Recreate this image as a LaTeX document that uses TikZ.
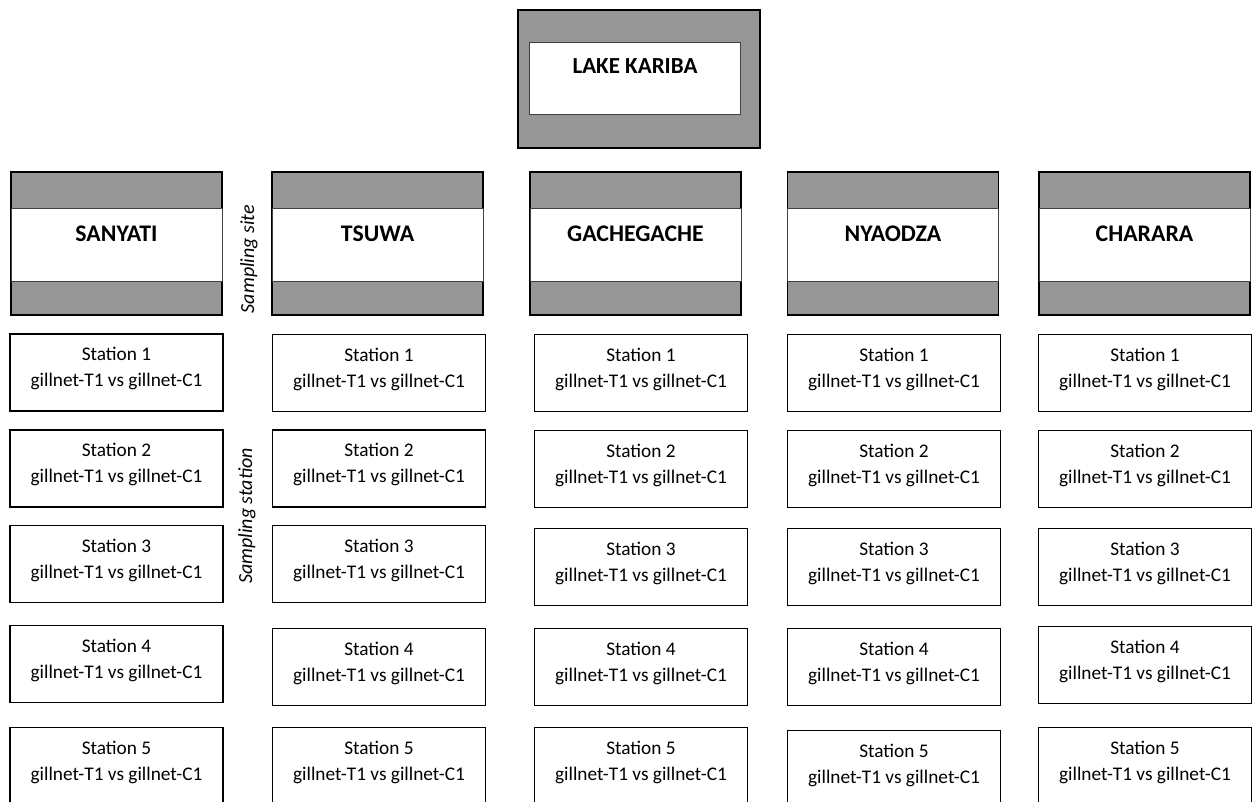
\documentclass[tikz,border=0pt]{standalone}
\usepackage{fontspec}
\setmainfont{Carlito}
\definecolor{bandgray}{RGB}{150,150,150}
\begin{document}
\begin{tikzpicture}[x=1pt,y=-1pt,
  outerbox/.style={draw=black, line width=1.8pt, fill=bandgray, inner sep=0pt},
  whiteband/.style={draw=black!75, line width=0.8pt, fill=white, inner sep=0pt},
  stbox/.style={draw=black, line width=1.1pt, fill=white, inner sep=0pt,
    minimum width=213pt, minimum height=77pt},
  hdrtxt/.style={font=\fontsize{23.8}{28}\selectfont\bfseries, inner sep=0pt},
  sttxt/.style={font=\fontsize{19.3}{26}\selectfont, align=center, inner sep=0pt},
  sidelbl/.style={font=\fontsize{20}{22}\selectfont\itshape, rotate=90, inner sep=0pt}
]
\useasboundingbox (0,0) rectangle (1253,801);
\fill[white] (0,0) rectangle (1253,801);

% Lake Kariba
\node[outerbox, minimum width=242pt, minimum height=138pt] (lake) at (639,79) {};
\node[whiteband, minimum width=211pt, minimum height=72pt] (lakein) at (634.5,78) {};
\node[hdrtxt, font=\fontsize{23}{28}\selectfont\bfseries] (laketxt) at (635,66) {LAKE KARIBA};

% Sampling sites
\foreach \name/\cx/\lab in {san/116.5/SANYATI, tsu/377.5/TSUWA, gac/635.5/GACHEGACHE, nya/893/NYAODZA, cha/1144.5/CHARARA}{
  \node[outerbox, minimum width=211pt, minimum height=143pt] (\name) at (\cx,243.5) {};
  \node[whiteband, minimum width=211pt, minimum height=73pt] (\name-band) at (\cx,244.5) {};
  \node[hdrtxt] (\name-txt) at (\cx,233.5) {\lab};
}

% Stations
\foreach \name/\cx/\ys in {
  san/116.5/{372.5,468.5,564,664,766},
  tsu/379/{373,468.5,564,667,766},
  gac/641/{373,469,567,667,766},
  nya/894/{373,469,567,667,769},
  cha/1145/{373,469,567,665,766}}{
  \foreach \y [count=\r] in \ys {
    \node[stbox] (\name-st\r) at (\cx,\y) {};
    \node[sttxt] (\name-st\r-txt) at (\cx,\y-4) {Station \r\\gillnet-T1 vs gillnet-C1};
  }
}

% Side labels
\node[sidelbl] (sitelbl) at (249,259) {Sampling site};
\node[sidelbl] (statlbl) at (247,516) {Sampling station};
\end{tikzpicture}
\end{document}
